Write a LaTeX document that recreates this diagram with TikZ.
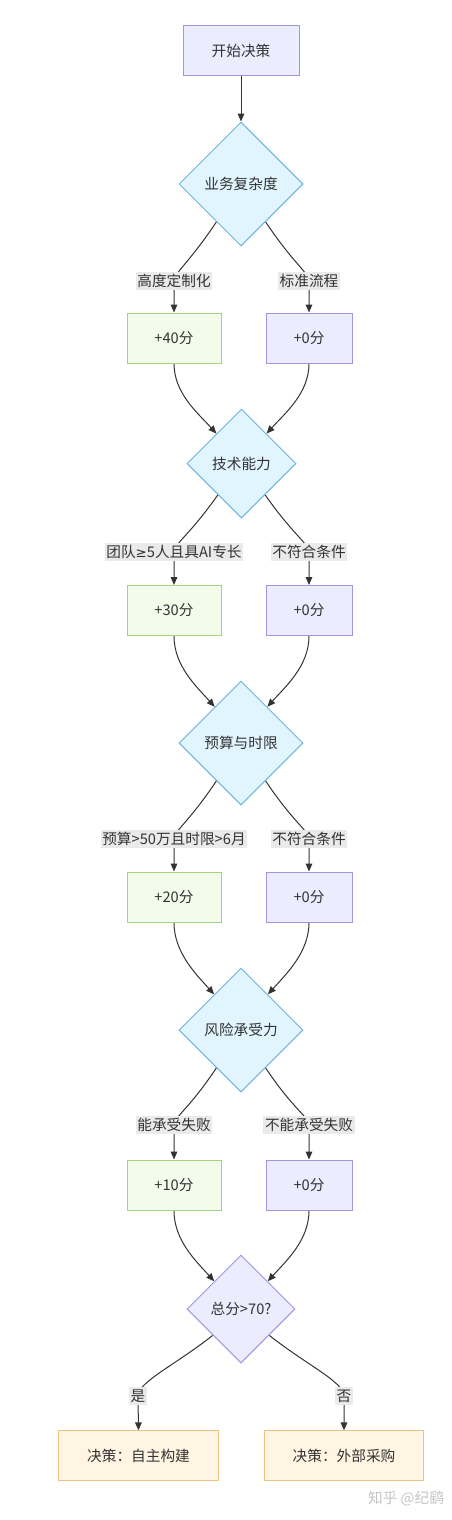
\documentclass[tikz,border=0pt]{standalone}
\usepackage{fontspec}
\setmainfont{Noto Sans CJK SC}
\newfontfamily\symfnt{DejaVu Sans}
\usetikzlibrary{shapes.geometric,arrows.meta,calc}
\pgfdeclarelayer{bg}
\pgfsetlayers{bg,main}
\definecolor{txt}{HTML}{333333}
\definecolor{lavfill}{HTML}{ECECFF}
\definecolor{lavline}{HTML}{A593E0}
\definecolor{grnfill}{HTML}{F3FBEA}
\definecolor{grnline}{HTML}{A3D47C}
\definecolor{blufill}{HTML}{E1F5FE}
\definecolor{bluline}{HTML}{6FB3E0}
\definecolor{orgfill}{HTML}{FFF5E2}
\definecolor{orgline}{HTML}{EFC283}
\definecolor{lblfill}{HTML}{EAEAEA}
\definecolor{arrcol}{HTML}{333333}
\definecolor{wmcol}{HTML}{C4C4C4}
\begin{document}
\begin{tikzpicture}[x=0.75pt,y=-0.75pt,
  font=\fontsize{11}{13}\selectfont, text=txt,
  base/.style={draw, line width=0.75pt, inner sep=0pt, minimum height=37.5pt, align=center},
  startbox/.style={base, fill=lavfill, draw=lavline, minimum width=87pt},
  greenbox/.style={base, fill=grnfill, draw=grnline, minimum width=70.5pt},
  zerobox/.style={base, fill=lavfill, draw=lavline, minimum width=64.5pt},
  endbox/.style={base, fill=orgfill, draw=orgline, minimum width=119.5pt, minimum height=37pt},
  bigdec/.style={diamond, aspect=1, draw=bluline, fill=blufill, line width=0.75pt, inner sep=0pt, minimum width=93pt, minimum height=93pt},
  smalldec/.style={bigdec, minimum width=81.75pt, minimum height=81.75pt},
  finaldec/.style={diamond, aspect=1, draw=lavline, fill=lavfill, line width=0.75pt, inner sep=0pt, minimum width=81pt, minimum height=81pt},
  edgelabel/.style={fill=lblfill, inner xsep=1.2pt, inner ysep=0pt, minimum height=13.5pt},
  arr/.style={draw=arrcol, line width=0.75pt, -{Triangle[length=6pt,width=5pt]}}
]
\useasboundingbox (0,0) rectangle (452,1520);

% nodes
\node[startbox] (start) at (241,51) {开始决策};

\node[bigdec] (d1) at (241,184) {业务复杂度};
\node[edgelabel] (l1a) at (174,281) {高度定制化};
\node[edgelabel] (l1b) at (309,281) {标准流程};
\node[greenbox] (b1a) at (174,338) {+40分};
\node[zerobox] (b1b) at (309,338) {+0分};

\node[smalldec] (d2) at (241.5,463.5) {技术能力};
\node[edgelabel] (l2a) at (174,552) {团队{\symfnt\fontsize{10}{12}\selectfont ≥}5人且具AI专长};
\node[edgelabel] (l2b) at (309,552) {不符合条件};
\node[greenbox] (b2a) at (174,610.5) {+30分};
\node[zerobox] (b2b) at (309,610.5) {+0分};

\node[bigdec] (d3) at (241,743) {预算与时限};
\node[edgelabel] (l3a) at (174,839) {预算>50万且时限>6月};
\node[edgelabel] (l3b) at (309,839) {不符合条件};
\node[greenbox] (b3a) at (174,897) {+20分};
\node[zerobox] (b3b) at (309,897) {+0分};

\node[bigdec] (d4) at (241,1030) {风险承受力};
\node[edgelabel] (l4a) at (174,1125) {能承受失败};
\node[edgelabel] (l4b) at (309,1125) {不能承受失败};
\node[greenbox] (b4a) at (174,1185) {+10分};
\node[zerobox] (b4b) at (309,1185) {+0分};

\node[finaldec] (d5) at (241,1309) {总分>70?};
\node[edgelabel] (l5a) at (138,1396) {是};
\node[edgelabel] (l5b) at (344,1396) {否};
\node[endbox] (e1) at (138.5,1455.5) {决策：自主构建};
\node[endbox] (e2) at (344,1455.5) {决策：外部采购};

\node[text=wmcol] (wm) at (406,1499) {知乎 @纪鹞};

% connectors
\begin{pgfonlayer}{bg}
\fill[white] (0,0) rectangle (452,1520);
\draw[arr] (start.south) -- (d1.north);

\draw[arr] (d1.237) .. controls +(-28,42) and +(0,-8) .. (l1a.center) -- (b1a.north);
\draw[arr] (d1.303) .. controls +(28,42) and +(0,-8) .. (l1b.center) -- (b1b.north);
\draw[arr] (b1a.south) .. controls +(0,30) and +(-18,-20) .. (d2.130);
\draw[arr] (b1b.south) .. controls +(0,30) and +(18,-20) .. (d2.50);

\draw[arr] (d2.233) .. controls +(-28,40) and +(0,-8) .. (l2a.center) -- (b2a.north);
\draw[arr] (d2.307) .. controls +(28,40) and +(0,-8) .. (l2b.center) -- (b2b.north);
\draw[arr] (b2a.south) .. controls +(0,30) and +(-18,-20) .. (d3.126);
\draw[arr] (b2b.south) .. controls +(0,30) and +(18,-20) .. (d3.54);

\draw[arr] (d3.237) .. controls +(-28,42) and +(0,-8) .. (l3a.center) -- (b3a.north);
\draw[arr] (d3.303) .. controls +(28,42) and +(0,-8) .. (l3b.center) -- (b3b.north);
\draw[arr] (b3a.south) .. controls +(0,30) and +(-18,-20) .. (d4.127);
\draw[arr] (b3b.south) .. controls +(0,30) and +(18,-20) .. (d4.53);

\draw[arr] (d4.237) .. controls +(-28,42) and +(0,-8) .. (l4a.center) -- (b4a.north);
\draw[arr] (d4.303) .. controls +(28,42) and +(0,-8) .. (l4b.center) -- (b4b.north);
\draw[arr] (b4a.south) .. controls +(0,30) and +(-18,-20) .. (d5.134);
\draw[arr] (b4b.south) .. controls +(0,30) and +(18,-20) .. (d5.46);

\draw[arr] (d5.223) .. controls +(-38,30) and +(0,-14) .. (l5a.center) -- (e1.north);
\draw[arr] (d5.317) .. controls +(38,30) and +(0,-14) .. (l5b.center) -- (e2.north);
\end{pgfonlayer}
\end{tikzpicture}
\end{document}
